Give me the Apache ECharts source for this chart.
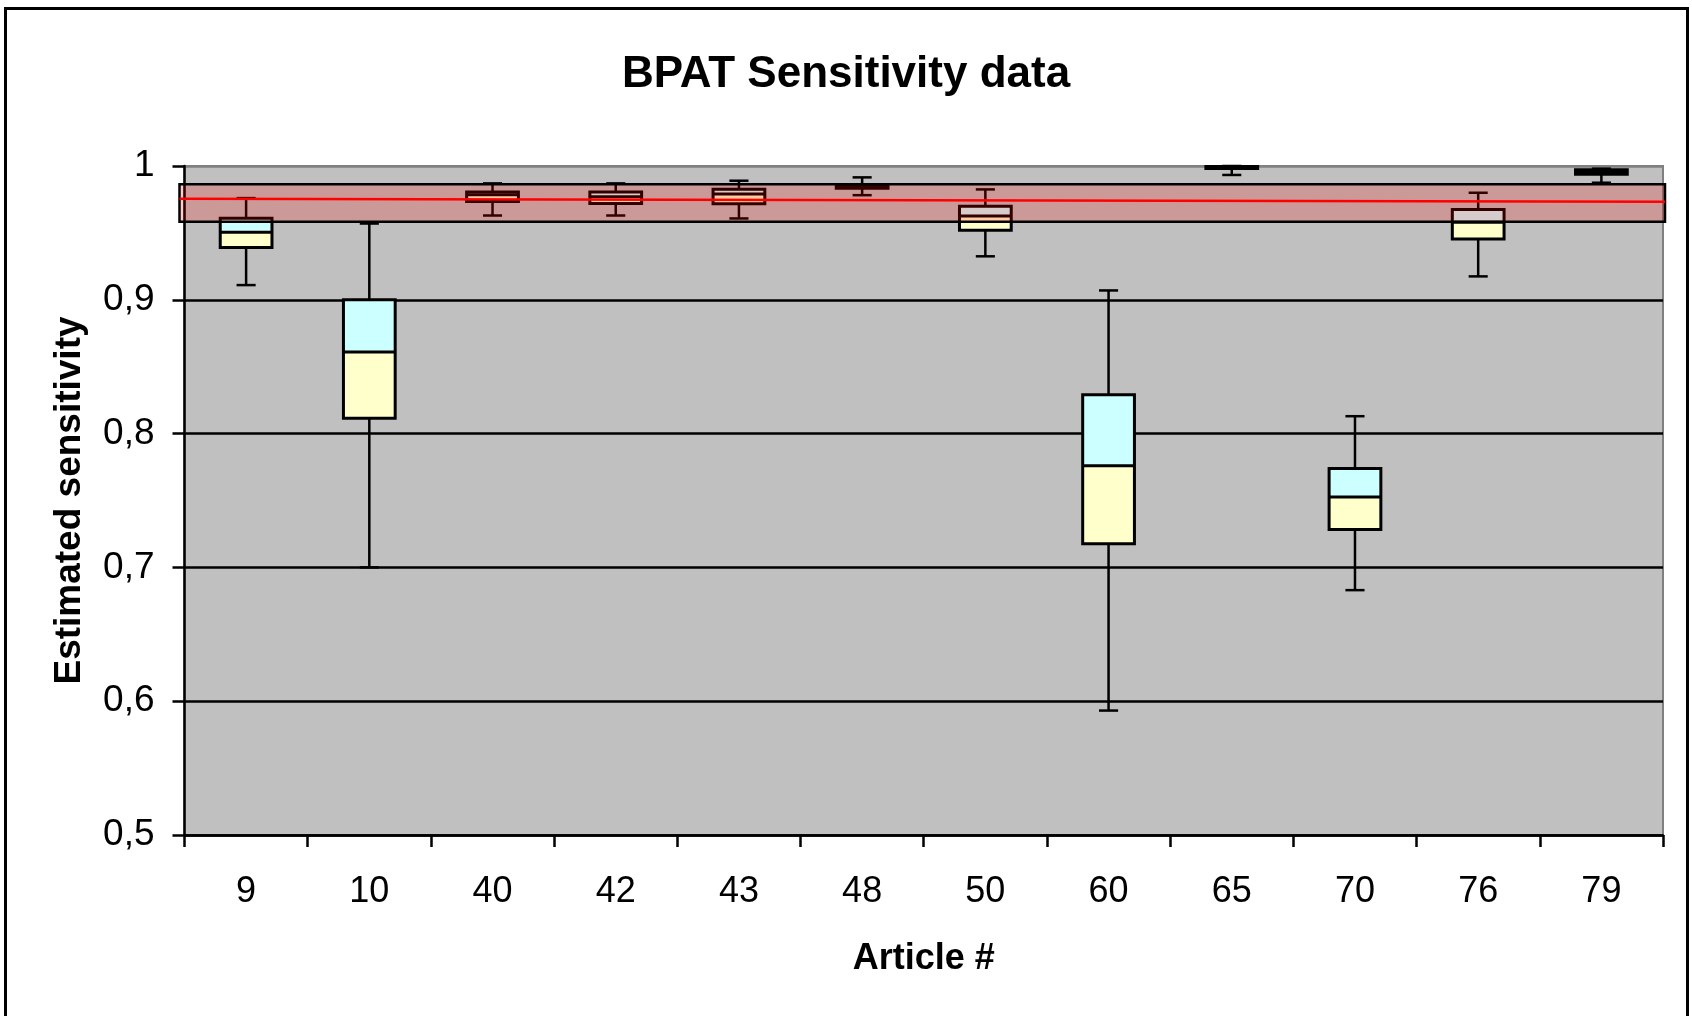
<!DOCTYPE html>
<html>
<head>
<meta charset="utf-8">
<title>BPAT Sensitivity data</title>
<script src="https://cdn.jsdelivr.net/npm/echarts@6/dist/echarts.min.js"></script>
<style>
  html, body { margin: 0; padding: 0; background: #fff; }
  #chart { width: 1692px; height: 1016px; }
</style>
</head>
<body>
<div id="chart"></div>
<script>
// article numbers on the x axis
const categories = ["9", "10", "40", "42", "43", "48", "50", "60", "65", "70", "76", "79"];

// box plot statistics per article
const maxs    = [0.976, 0.957, 0.987, 0.987, 0.989, 0.9915, 0.9825, 0.907, 1.000, 0.813, 0.980, 0.998];
const q3s     = [0.961, 0.900, 0.9805, 0.9805, 0.9827, 0.9861, 0.970, 0.829, 0.9996, 0.774, 0.9675, 0.9972];
const medians = [0.9505, 0.861, 0.9785, 0.977, 0.979, 0.985, 0.9627, 0.776, 0.999, 0.7527, 0.958, 0.9955];
const q1s     = [0.939, 0.8115, 0.9735, 0.972, 0.9717, 0.9834, 0.952, 0.7177, 0.9981, 0.7284, 0.9455, 0.9938];
const mins    = [0.911, 0.700, 0.963, 0.963, 0.9608, 0.9782, 0.9325, 0.593, 0.9933, 0.683, 0.9175, 0.9875];

// reference band and the red reference line (start / end value)
const bandLow = 0.9583;
const bandHigh = 0.9863;
const refLine = [0.9755, 0.9732];

const yTickLabels = ["0,5", "0,6", "0,7", "0,8", "0,9", "1"];

const FONT = "'Liberation Sans', Arial, sans-serif";
const CYAN = "#CCFFFF";
const YELLOW = "#FFFFCC";

const boxData = categories.map((c, i) => [i, mins[i], q1s[i], medians[i], q3s[i], maxs[i]]);

function renderBox(params, api) {
  const idx = api.value(0);
  const cx = api.coord([idx, 0.5])[0];
  const band = api.size([1, 0])[0];
  const boxW = band * 0.42;
  const capW = band * 0.155;
  const y = (d) => api.coord([idx, api.value(d)])[1];
  const yMin = y(1), yQ1 = y(2), yMed = y(3), yQ3 = y(4), yMax = y(5);
  const line = { stroke: "#000", lineWidth: 2.5 };
  const x0 = cx - boxW / 2;

  return {
    type: "group",
    children: [
      { type: "line", shape: { x1: cx, y1: yMax, x2: cx, y2: yQ3 }, style: line },
      { type: "line", shape: { x1: cx, y1: yQ1, x2: cx, y2: yMin }, style: line },
      { type: "line", shape: { x1: cx - capW / 2, y1: yMax, x2: cx + capW / 2, y2: yMax }, style: line },
      { type: "line", shape: { x1: cx - capW / 2, y1: yMin, x2: cx + capW / 2, y2: yMin }, style: line },
      { type: "rect", shape: { x: x0, y: yQ3, width: boxW, height: yMed - yQ3 }, style: { fill: CYAN } },
      { type: "rect", shape: { x: x0, y: yMed, width: boxW, height: yQ1 - yMed }, style: { fill: YELLOW } },
      { type: "rect", shape: { x: x0, y: yQ3, width: boxW, height: yQ1 - yQ3 }, style: { fill: null, stroke: "#000", lineWidth: 3 } },
      { type: "line", shape: { x1: x0, y1: yMed, x2: x0 + boxW, y2: yMed }, style: { stroke: "#000", lineWidth: 3 } }
    ]
  };
}

function renderBand(params, api) {
  const cs = params.coordSys;
  const left = cs.x - 5;
  const right = cs.x + cs.width + 2;
  const yHigh = api.coord([0, api.value(2)])[1];
  const yLow = api.coord([0, api.value(1)])[1];
  const yA = api.coord([0, api.value(3)])[1];
  const yB = api.coord([0, api.value(4)])[1];
  return {
    type: "group",
    children: [
      {
        type: "rect",
        shape: { x: left, y: yHigh, width: right - left, height: yLow - yHigh },
        style: { fill: "rgba(255,0,0,0.2)", stroke: "#000", lineWidth: 2.5 }
      },
      {
        type: "line",
        shape: { x1: left, y1: yA, x2: right, y2: yB },
        style: { stroke: "#FF0000", lineWidth: 2.5 }
      }
    ]
  };
}

const chart = echarts.init(document.getElementById("chart"));

chart.setOption({
  animation: false,
  backgroundColor: "#fff",
  textStyle: { fontFamily: FONT, color: "#000" },
  title: {
    text: "BPAT Sensitivity data",
    left: "center",
    top: 48,
    textStyle: { fontFamily: FONT, fontSize: 44, fontWeight: "bold", color: "#000" }
  },
  graphic: [
    {
      type: "rect",
      shape: { x: 5.5, y: 8.5, width: 1682, height: 1100 },
      style: { fill: null, stroke: "#000", lineWidth: 3 },
      silent: true
    }
  ],
  grid: {
    left: 184.5,
    right: 29,
    top: 166,
    bottom: 181,
    show: true,
    backgroundColor: "#C0C0C0",
    borderColor: "#808080",
    borderWidth: 2
  },
  xAxis: {
    type: "category",
    data: categories,
    boundaryGap: true,
    name: "Article #",
    nameLocation: "middle",
    nameGap: 106,
    nameTextStyle: { fontFamily: FONT, fontSize: 36, fontWeight: "bold", color: "#000" },
    axisLine: { lineStyle: { color: "#000", width: 2.5 } },
    axisTick: { show: true, alignWithLabel: false, length: 12, lineStyle: { color: "#000", width: 2.5 } },
    axisLabel: { fontFamily: FONT, fontSize: 36, color: "#000", margin: 39 },
    splitLine: { show: false }
  },
  yAxis: {
    type: "value",
    min: 0.5,
    max: 1,
    interval: 0.1,
    name: "Estimated sensitivity",
    nameLocation: "middle",
    nameGap: 96,
    nameRotate: 90,
    nameTextStyle: { fontFamily: FONT, fontSize: 37, fontWeight: "bold", color: "#000" },
    axisLine: { show: true, lineStyle: { color: "#000", width: 2.5 } },
    axisTick: { show: true, length: 12, lineStyle: { color: "#000", width: 2.5 } },
    axisLabel: {
      fontFamily: FONT,
      fontSize: 37,
      color: "#000",
      margin: 30,
      formatter: (v) => yTickLabels[Math.round((v - 0.5) * 10)]
    },
    splitLine: {
      show: true,
      lineStyle: { color: ["#000", "#000", "#000", "#000", "#000", "#808080"], width: 2.5 }
    }
  },
  series: [
    {
      type: "custom",
      name: "boxes",
      renderItem: renderBox,
      data: boxData,
      encode: { x: 0, y: [1, 2, 3, 4, 5] },
      z: 2,
      silent: true
    },
    {
      type: "custom",
      name: "reference",
      renderItem: renderBand,
      data: [[0, bandLow, bandHigh, refLine[0], refLine[1]]],
      encode: { x: 0, y: [1, 2, 3, 4] },
      z: 3,
      silent: true
    }
  ]
});
</script>
</body>
</html>
